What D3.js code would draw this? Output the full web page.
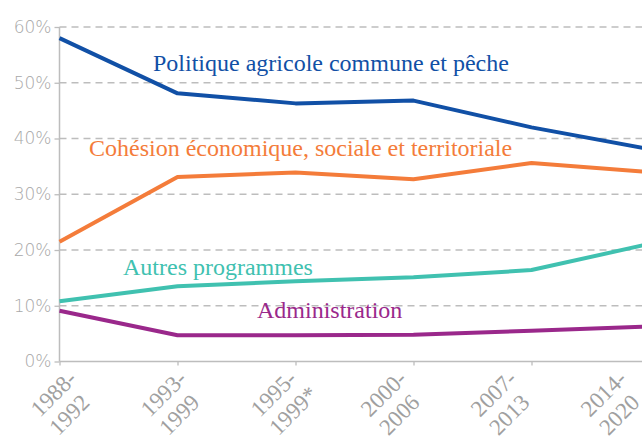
<!DOCTYPE html>
<html>
<head>
<meta charset="utf-8">
<script src="https://cdn.jsdelivr.net/npm/d3@7"></script>
<style>
  body { margin: 0; background: #fff; }
  svg { display: block; }
</style>
</head>
<body>
<div id="chart"></div>
<script>
// periods (two-line labels)
const periods = ["1988-1992", "1993-1999", "1995-1999*", "2000-2006", "2007-2013", "2014-2020"]
const periodLines = [["1988-", "1992"], ["1993-", "1999"], ["1995-", "1999*"], ["2000-", "2006"], ["2007-", "2013"], ["2014-", "2020"]]

// shares of the EU budget, %
const pac = [58.0, 48.1, 46.3, 46.8, 42.0, 38.1]
const cohesion = [21.5, 33.1, 33.9, 32.7, 35.6, 34.0]
const autres = [10.8, 13.5, 14.4, 15.1, 16.4, 21.1]
const admin = [9.1, 4.7, 4.7, 4.8, 5.5, 6.3]

const yTicks = [0, 10, 20, 30, 40, 50, 60]

const series = [
  { name: "Politique agricole commune et pêche", values: pac, color: "#1150a6", lx: 153, ly: 71 },
  { name: "Cohésion économique, sociale et territoriale", values: cohesion, color: "#f47c3a", lx: 89, ly: 156 },
  { name: "Autres programmes", values: autres, color: "#40c1b0", lx: 123, ly: 275 },
  { name: "Administration", values: admin, color: "#9a288b", lx: 257, ly: 318 }
]

const serif = "'Liberation Serif'"
const width = 642, height = 443

const svg = d3.select("#chart").append("svg")
  .attr("width", width)
  .attr("height", height)

let x = d3.scalePoint().domain(periods).range([59.5, 649.5]),
  y = d3.scaleLinear().domain([0, 60]).range([361.5, 27])

// label starts drift left of the ticks in the original
let xLab = d3.scalePoint().domain(periods).range([40, 590])

// dashed grid
svg.append("g")
  .selectAll("line")
  .data(yTicks.filter(d => d > 0))
  .enter().append("line")
  .attr("x1", x.range()[0])
  .attr("x2", width)
  .attr("y1", d => y(d))
  .attr("y2", d => y(d))
  .attr("stroke", "#bdbdbd")
  .attr("stroke-width", 1.3)
  .attr("stroke-dasharray", "7,5")

// y axis
let yAxis = d3.axisLeft(y).tickValues(yTicks).tickFormat(d => d + "%").tickSize(5).tickPadding(3)
const gy = svg.append("g")
  .attr("transform", "translate(" + x.range()[0] + ",0)")
  .call(yAxis)
gy.select(".domain").remove()
gy.append("line")
  .attr("y1", y(60)).attr("y2", y(0))
  .attr("stroke", "#bdbdbd").attr("stroke-width", 1.5)
gy.selectAll(".tick line").attr("stroke", "#bdbdbd").attr("stroke-width", 1.3)
gy.selectAll(".tick text")
  .attr("fill", "#a8a8a8")
  .style("font-family", "'DejaVu Sans'")
  .style("font-weight", "200")
  .style("font-size", "17px")

// x axis
let xAxis = d3.axisBottom(x).tickSize(4).tickFormat("")
const gx = svg.append("g")
  .attr("transform", "translate(0," + y(0) + ")")
  .call(xAxis)
gx.select(".domain").remove()
gx.append("line")
  .attr("x1", x.range()[0]).attr("x2", width)
  .attr("stroke", "#bdbdbd").attr("stroke-width", 1.5)
gx.selectAll(".tick line").attr("stroke", "#bdbdbd").attr("stroke-width", 1.3)

// rotated two-line period labels
const lab = svg.append("g").selectAll("text")
  .data(periods)
  .enter().append("text")
  .attr("transform", d => "translate(" + xLab(d) + ",418) rotate(-45)")
  .attr("text-anchor", "start")
  .attr("fill", "#a0a0a0")
  .style("font-family", serif)
  .style("font-size", "23px")
lab.selectAll("tspan")
  .data((d, i) => periodLines[i])
  .enter().append("tspan")
  .attr("x", 0)
  .attr("dy", (d, i) => i === 0 ? 0 : 26)
  .text(d => d)

// lines
let line = d3.line()
  .x((d, i) => x(periods[i]))
  .y(d => y(d))

svg.append("g").selectAll("path")
  .data(series)
  .enter().append("path")
  .attr("d", d => line(d.values))
  .attr("fill", "none")
  .attr("stroke", d => d.color)
  .attr("stroke-width", 4)
  .attr("stroke-linejoin", "round")

// series labels
svg.append("g").selectAll("text")
  .data(series)
  .enter().append("text")
  .attr("x", d => d.lx)
  .attr("y", d => d.ly)
  .attr("fill", d => d.color)
  .style("font-family", serif)
  .style("font-size", "24px")
  .text(d => d.name)
</script>
</body>
</html>
